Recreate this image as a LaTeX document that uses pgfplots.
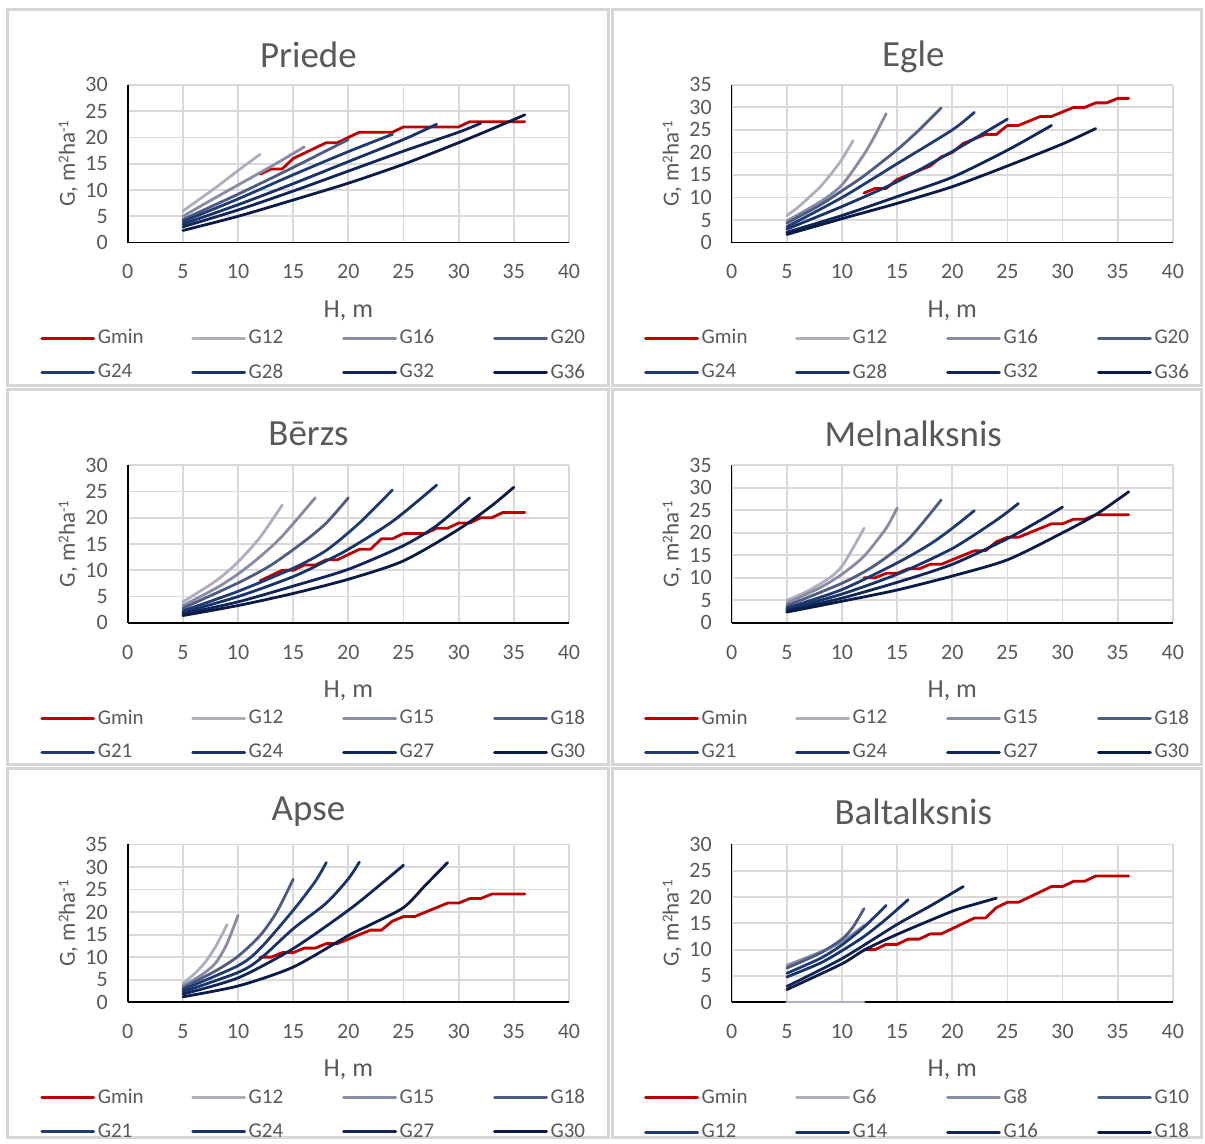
\documentclass[border=0pt]{standalone}
\usepackage{fontspec}
\setmainfont{Carlito}
\usepackage{pgfplots}
\pgfplotsset{compat=1.18}

\definecolor{cmin}{HTML}{C00000}
\definecolor{c1}{HTML}{ADAFBF}
\definecolor{c2}{HTML}{878BA3}
\definecolor{c3}{HTML}{4E5B82}
\definecolor{c4}{HTML}{1F3B73}
\definecolor{c5}{HTML}{18326A}
\definecolor{c6}{HTML}{10265A}
\definecolor{c7}{HTML}{0B1B47}
\definecolor{txt}{HTML}{595959}
\definecolor{gridc}{HTML}{D9D9D9}
\definecolor{frame}{HTML}{D6D6D6}

\pgfplotsset{
  panel/.style={
    scale only axis, width=221pt, height=79pt, anchor=south west,
    xmin=0, xmax=40, xtick={0,5,...,40}, ymin=0,
    axis x line=bottom, axis y line=left,
    axis line style={-, black, line width=0.8pt},
    major tick length=0pt,
    grid=major, major grid style={draw=gridc, line width=0.9pt},
    tick label style={font=\fontsize{11}{13}\selectfont, text=txt},
    /pgf/number format/assume math mode=true,
    xticklabel style={yshift=-7.5pt}, yticklabel style={xshift=-6.5pt},
    xlabel={H, m},
    ylabel={G, m{\fontsize{7.5}{8}\selectfont\raisebox{0.9ex}{2}}ha{\fontsize{7.5}{8}\selectfont\raisebox{0.9ex}{-1}}},
    xlabel style={font=\fontsize{13}{15}\selectfont, text=txt, at={(axis description cs:0.5,0)}, anchor=center, yshift=-34pt},
    ylabel style={font=\fontsize{11.5}{13}\selectfont, text=txt, at={(axis description cs:-0.135,0.5)}, anchor=center},
    legend columns=4, legend cell align=left,
    legend style={at={(axis description cs:0,0)}, anchor=north west,
      xshift=-44pt, yshift=-42pt, draw=none, fill=none, inner sep=0pt,
      font=\fontsize{10.5}{12}\selectfont, text=txt,
      nodes={inner sep=1.3pt},
      /tikz/every even column/.append style={column sep=21.5pt}, row sep=6pt},
    legend image code/.code={\draw[#1, line width=1.5pt] (0pt,0pt) -- (26pt,0pt);},
    every axis plot/.append style={line width=1.4pt, line join=round, line cap=round},
  },
  cur/.style={smooth, tension=0.45},
}
\newcommand{\leg}[1]{\addlegendentry{\makebox[24pt][l]{#1}}}

\begin{document}
\begin{tikzpicture}
\fill[white] (0,0) rectangle (602.5pt,-570.5pt);
\foreach \xa/\ya/\xb/\yb in {4/-5/305/-193, 307/-5/601.8/-193, 4/-195/305/-383, 307/-195/601.8/-383, 4/-385/305/-569.8, 307/-385/601.8/-569.8}
  \draw[frame, line width=1.5pt] (\xa pt,\ya pt) rectangle (\xb pt,\yb pt);

\node[font=\fontsize{18.5}{21}\selectfont, text=txt] at (154.5pt,-27.5pt) {Priede};
\node[font=\fontsize{18.5}{21}\selectfont, text=txt] at (457.5pt,-28.5pt) {Egle};
\node[font=\fontsize{18.5}{21}\selectfont, text=txt] at (154.5pt,-217.5pt) {Bērzs};
\node[font=\fontsize{18.5}{21}\selectfont, text=txt] at (457.5pt,-217.5pt) {Melnalksnis};
\node[font=\fontsize{18.5}{21}\selectfont, text=txt] at (154.5pt,-406.5pt) {Apse};
\node[font=\fontsize{18.5}{21}\selectfont, text=txt] at (457.5pt,-406.5pt) {Baltalksnis};

% Priede
\begin{axis}[panel, at={(64pt,-121.5pt)}, ymax=30, ytick={0,5,...,30}]
\addplot[cmin] coordinates {(12,13)(13,14)(14,14)(15,16)(16,17)(17,18)(18,19)(19,19)(20,20)(21,21)(22,21)(23,21)(24,21)(25,22)(26,22)(27,22)(28,22)(29,22)(30,22)(31,23)(32,23)(33,23)(34,23)(35,23)(36,23)}; \leg{Gmin}
\addplot[c1,cur] coordinates {(5,6.0)(8,10.5)(10,13.7)(12,16.8)}; \leg{G12}
\addplot[c2,cur] coordinates {(5,5.0)(8,8.6)(12,13.3)(14,15.7)(16,18.2)}; \leg{G16}
\addplot[c3,cur] coordinates {(5,4.4)(10,9.2)(15,14.3)(20,19.6)}; \leg{G20}
\addplot[c4,cur] coordinates {(5,4.0)(10,8.3)(15,12.9)(20,17.3)(24,20.6)}; \leg{G24}
\addplot[c5,cur] coordinates {(5,3.5)(10,7.2)(15,11.2)(20,15.4)(25,19.6)(28,22.5)}; \leg{G28}
\addplot[c6,cur] coordinates {(5,3.0)(10,6.2)(15,9.8)(20,13.6)(25,17.4)(30,21.0)(32,22.7)}; \leg{G32}
\addplot[c7,cur] coordinates {(5,2.3)(10,5.0)(15,8.1)(20,11.3)(25,14.9)(30,19.0)(33,21.6)(36,24.3)}; \leg{G36}
\end{axis}

% Egle
\begin{axis}[panel, at={(366.5pt,-121.5pt)}, ymax=35, ytick={0,5,...,35}]
\addplot[cmin] coordinates {(12,11)(13,12)(14,12)(15,14)(16,15)(17,16)(18,17)(19,19)(20,20)(21,22)(22,23)(23,24)(24,24)(25,26)(26,26)(27,27)(28,28)(29,28)(30,29)(31,30)(32,30)(33,31)(34,31)(35,32)(36,32)}; \leg{Gmin}
\addplot[c1,cur] coordinates {(5,6.0)(6,7.8)(7,10.0)(8,12.3)(9,15.2)(10,18.5)(11,22.6)}; \leg{G12}
\addplot[c2,cur] coordinates {(5,4.8)(8,9.0)(10,12.8)(12,19.6)(13,23.8)(14,28.6)}; \leg{G16}
\addplot[c3,cur] coordinates {(5,4.3)(8,8.3)(10,11.5)(12,14.8)(15,20.6)(17,25.0)(19,29.9)}; \leg{G20}
\addplot[c4,cur] coordinates {(5,3.5)(10,10.0)(15,17.5)(20,25.0)(22,28.9)}; \leg{G24}
\addplot[c5,cur] coordinates {(5,3.0)(10,8.0)(15,13.5)(20,20.2)(23,24.5)(25,27.4)}; \leg{G28}
\addplot[c6,cur] coordinates {(5,2.3)(10,6.0)(15,10.2)(20,14.5)(25,20.5)(29,26.0)}; \leg{G32}
\addplot[c7,cur] coordinates {(5,1.8)(10,5.3)(15,8.7)(20,12.4)(25,17.0)(30,21.9)(33,25.3)}; \leg{G36}
\end{axis}

% Berzs
\begin{axis}[panel, at={(64pt,-312pt)}, ymax=30, ytick={0,5,...,30}]
\addplot[cmin] coordinates {(12,8)(13,9)(14,10)(15,10)(16,11)(17,11)(18,12)(19,12)(20,13)(21,14)(22,14)(23,16)(24,16)(25,17)(26,17)(27,17)(28,18)(29,18)(30,19)(31,19)(32,20)(33,20)(34,21)(35,21)(36,21)}; \leg{Gmin}
\addplot[c1,cur] coordinates {(5,4.0)(8,8.0)(10,11.6)(12,16.3)(14,22.4)}; \leg{G12}
\addplot[c2,cur] coordinates {(5,3.3)(8,6.6)(10,9.3)(12,12.6)(14,16.5)(17,23.8)}; \leg{G15}
\addplot[c3,cur] coordinates {(5,2.8)(10,7.6)(13,11.0)(16,15.5)(18,19.0)(20,23.8)}; \leg{G18}
\addplot[c4,cur] coordinates {(5,2.3)(10,6.0)(15,10.4)(18,13.8)(21,19.0)(24,25.3)}; \leg{G21}
\addplot[c5,cur] coordinates {(5,2.0)(10,5.0)(15,8.8)(18,11.8)(20,14.0)(24,19.3)(28,26.2)}; \leg{G24}
\addplot[c6,cur] coordinates {(5,1.7)(10,4.0)(15,7.0)(20,10.2)(25,14.7)(28,18.5)(31,23.8)}; \leg{G27}
\addplot[c7,cur] coordinates {(5,1.4)(10,3.3)(15,5.6)(20,8.3)(25,11.8)(30,17.8)(33,22.3)(35,25.8)}; \leg{G30}
\end{axis}

% Melnalksnis
\begin{axis}[panel, at={(366.5pt,-312pt)}, ymax=35, ytick={0,5,...,35}]
\addplot[cmin] coordinates {(12,10)(13,10)(14,11)(15,11)(16,12)(17,12)(18,13)(19,13)(20,14)(21,15)(22,16)(23,16)(24,18)(25,19)(26,19)(27,20)(28,21)(29,22)(30,22)(31,23)(32,23)(33,24)(34,24)(35,24)(36,24)}; \leg{Gmin}
\addplot[c1,cur] coordinates {(5,5.0)(7,7.2)(9,10.2)(10,12.6)(11,16.6)(12,21.0)}; \leg{G12}
\addplot[c2,cur] coordinates {(5,4.4)(8,7.8)(10,10.8)(12,14.8)(14,21.0)(15,25.5)}; \leg{G15}
\addplot[c3,cur] coordinates {(5,3.8)(10,8.8)(13,12.8)(16,18.5)(19,27.3)}; \leg{G18}
\addplot[c4,cur] coordinates {(5,3.3)(10,7.4)(15,13.3)(18,17.5)(20,21.0)(22,24.9)}; \leg{G21}
\addplot[c5,cur] coordinates {(5,3.0)(10,6.4)(15,10.8)(20,16.5)(24,22.8)(26,26.5)}; \leg{G24}
\addplot[c6,cur] coordinates {(5,2.7)(10,5.5)(15,9.0)(20,13.0)(25,18.7)(28,22.8)(30,25.7)}; \leg{G27}
\addplot[c7,cur] coordinates {(5,2.4)(10,4.8)(15,7.3)(20,10.4)(25,14.0)(30,20.0)(33,24.0)(36,29.1)}; \leg{G30}
\end{axis}

% Apse
\begin{axis}[panel, at={(64pt,-502pt)}, ymax=35, ytick={0,5,...,35}]
\addplot[cmin] coordinates {(12,10)(13,10)(14,11)(15,11)(16,12)(17,12)(18,13)(19,13)(20,14)(21,15)(22,16)(23,16)(24,18)(25,19)(26,19)(27,20)(28,21)(29,22)(30,22)(31,23)(32,23)(33,24)(34,24)(35,24)(36,24)}; \leg{Gmin}
\addplot[c1,cur] coordinates {(5,4.2)(6,6.2)(7,8.8)(8,12.5)(9,17.2)}; \leg{G12}
\addplot[c2,cur] coordinates {(5,3.7)(6,5.0)(7,6.6)(8,8.8)(9,13.0)(10,19.3)}; \leg{G15}
\addplot[c3,cur] coordinates {(5,3.2)(8,7.0)(10,10.2)(12,14.8)(13.5,20.0)(15,27.3)}; \leg{G18}
\addplot[c4,cur] coordinates {(5,2.8)(10,8.1)(12,11.9)(15,20.4)(17,26.8)(18,31.0)}; \leg{G21}
\addplot[c5,cur] coordinates {(5,2.3)(10,6.6)(12,9.6)(15,16.3)(18,22.0)(20,27.4)(21,31.1)}; \leg{G24}
\addplot[c6,cur] coordinates {(5,1.8)(10,5.4)(15,11.9)(20,20.4)(23,26.3)(25,30.4)}; \leg{G27}
\addplot[c7,cur] coordinates {(5,1.2)(10,3.6)(15,7.8)(20,14.8)(22,17.2)(25,21.0)(27,26.0)(29,31.0)}; \leg{G30}
\end{axis}

% Baltalksnis
\begin{axis}[panel, at={(366.5pt,-502pt)}, ymax=30, ytick={0,5,...,30}]
\addplot[cmin] coordinates {(12,10)(13,10)(14,11)(15,11)(16,12)(17,12)(18,13)(19,13)(20,14)(21,15)(22,16)(23,16)(24,18)(25,19)(26,19)(27,20)(28,21)(29,22)(30,22)(31,23)(32,23)(33,24)(34,24)(35,24)(36,24)}; \leg{Gmin}
\addplot[c1] coordinates {(5,0)(12,0)}; \leg{G6}
\addplot[c2,cur] coordinates {(5,7.0)(8,9.5)(10,11.5)(12,14.6)}; \leg{G8}
\addplot[c3,cur] coordinates {(5,6.5)(8,9.3)(10,12.0)(11,14.3)(12,17.8)}; \leg{G10}
\addplot[c4,cur] coordinates {(5,5.5)(8,8.3)(10,10.9)(12,14.3)(14,18.4)}; \leg{G12}
\addplot[c5,cur] coordinates {(5,4.8)(8,7.4)(10,9.8)(12,12.5)(14,15.8)(16,19.5)}; \leg{G14}
\addplot[c6,cur] coordinates {(5,3.0)(10,8.3)(15,14.8)(18,18.3)(21,22.0)}; \leg{G16}
\addplot[c7,cur] coordinates {(5,2.4)(10,7.3)(12,9.9)(15,12.9)(20,17.3)(22,18.6)(24,19.8)}; \leg{G18}
\end{axis}
\end{tikzpicture}
\end{document}
